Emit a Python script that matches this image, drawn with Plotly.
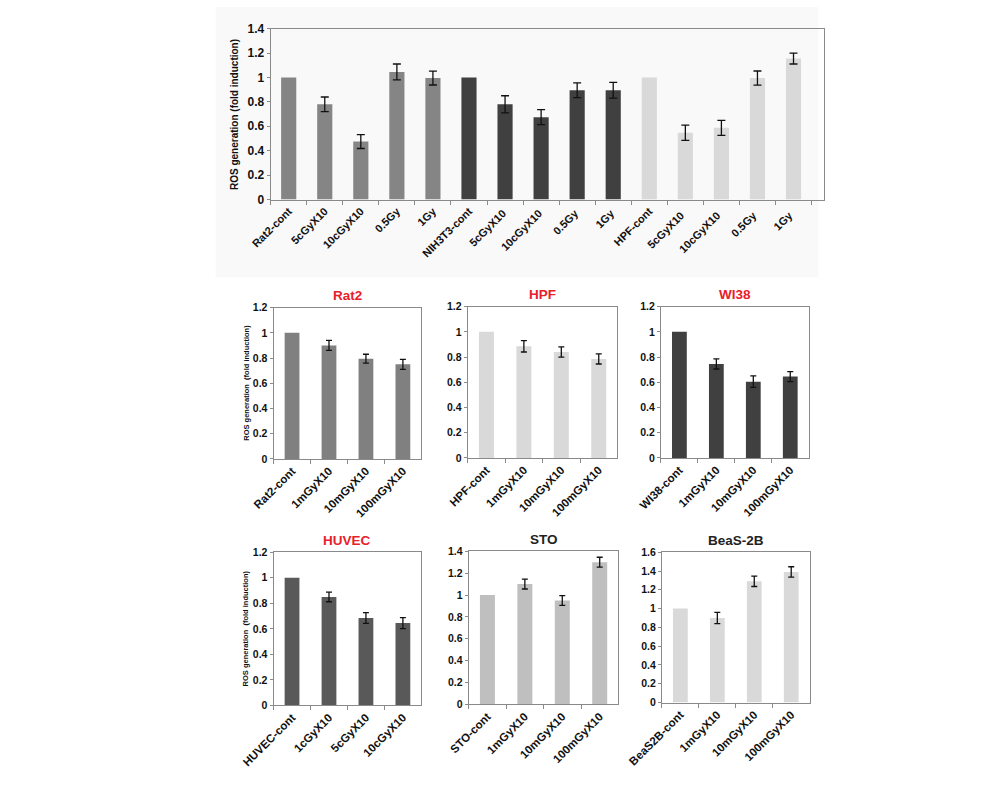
import plotly.graph_objects as go

# ---------------- data ----------------
top_cats = ["Rat2-cont", "5cGyX10", "10cGyX10", "0.5Gy", "1Gy",
            "NIH3T3-cont", "5cGyX10 ", "10cGyX10 ", "0.5Gy ", "1Gy ",
            "HPF-cont", "5cGyX10  ", "10cGyX10  ", "0.5Gy  ", "1Gy  "]
top_vals = [1.0, 0.78, 0.475, 1.045, 0.995,
            1.0, 0.78, 0.675, 0.895, 0.895,
            1.0, 0.547, 0.587, 0.995, 1.155]
top_err = [0, 0.06, 0.057, 0.065, 0.057,
           0, 0.07, 0.062, 0.06, 0.065,
           0, 0.062, 0.062, 0.058, 0.045]
top_colors = ["#858585"] * 5 + ["#404040"] * 5 + ["#d9d9d9"] * 5

rat2_cats = ["Rat2-cont", "1mGyX10", "10mGyX10", "100mGyX10"]
rat2_vals = [1.0, 0.90, 0.795, 0.75]
rat2_err = [0, 0.04, 0.035, 0.04]

hpf_cats = ["HPF-cont", "1mGyX10", "10mGyX10", "100mGyX10"]
hpf_vals = [1.0, 0.885, 0.84, 0.785]
hpf_err = [0, 0.045, 0.04, 0.04]

wi38_cats = ["WI38-cont", "1mGyX10", "10mGyX10", "100mGyX10"]
wi38_vals = [1.0, 0.745, 0.605, 0.645]
wi38_err = [0, 0.04, 0.045, 0.04]

huvec_cats = ["HUVEC-cont", "1cGyX10", "5cGyX10", "10cGyX10"]
huvec_vals = [1.0, 0.85, 0.685, 0.645]
huvec_err = [0, 0.038, 0.042, 0.043]

sto_cats = ["STO-cont", "1mGyX10", "10mGyX10", "100mGyX10"]
sto_vals = [1.0, 1.10, 0.95, 1.30]
sto_err = [0, 0.045, 0.045, 0.045]

beas_cats = ["BeaS2B-cont", "1mGyX10", "10mGyX10", "100mGyX10"]
beas_vals = [1.0, 0.90, 1.29, 1.39]
beas_err = [0, 0.06, 0.055, 0.055]

W, H = 1000, 794

def px_x(a, b):
    return [a / W, b / W]

def px_y(top, bottom):
    return [1 - bottom / H, 1 - top / H]

panels = [
    (top_cats, top_vals, top_err, top_colors, px_x(245, 818), px_y(22, 196), 1.4, None, None, 0.42, 11, 12),
    (rat2_cats, rat2_vals, rat2_err, "#808080", px_x(248, 401), px_y(306, 460), 1.2, "Rat2", "#e8202a", 0.4, 11.5, 10.5),
    (hpf_cats, hpf_vals, hpf_err, "#d9d9d9", px_x(449, 604), px_y(305, 459), 1.2, "HPF", "#e8202a", 0.4, 11.5, 10.5),
    (wi38_cats, wi38_vals, wi38_err, "#404040", px_x(649, 802), px_y(305, 459), 1.2, "WI38", "#e8202a", 0.4, 11.5, 10.5),
    (huvec_cats, huvec_vals, huvec_err, "#595959", px_x(248, 401), px_y(555, 711), 1.2, "HUVEC", "#e8202a", 0.4, 11.5, 10.5),
    (sto_cats, sto_vals, sto_err, "#bfbfbf", px_x(450, 605), px_y(554, 710), 1.4, "STO", "#222222", 0.4, 11.5, 10.5),
    (beas_cats, beas_vals, beas_err, "#d9d9d9", px_x(650, 803), px_y(555, 708), 1.6, "BeaS-2B", "#222222", 0.4, 11.5, 10.5),
]

fig = go.Figure()
annotations = []
FONT = "Liberation Sans, Arial, sans-serif"

for i, (cats, vals, err, color, xd, yd, ymax, title, tcol, bw, xfs, yfs) in enumerate(panels):
    n = "" if i == 0 else str(i + 1)
    fig.add_trace(go.Bar(
        x=cats, y=vals,
        marker=dict(color=color, line=dict(width=0)),
        width=bw,
        xaxis="x" + n, yaxis="y" + n, showlegend=False,
    ))
    # error bars only for points that have an error value
    ex = [c for c, e in zip(cats, err) if e > 0]
    ey = [v for v, e in zip(vals, err) if e > 0]
    ee = [e for e in err if e > 0]
    fig.add_trace(go.Scatter(
        x=ex, y=ey, mode="markers",
        marker=dict(size=1, color="rgba(0,0,0,0)"),
        error_y=dict(type="data", array=ee, visible=True, color="#111111",
                     thickness=1.3, width=4 if i == 0 else 3),
        xaxis="x" + n, yaxis="y" + n, showlegend=False, hoverinfo="skip",
    ))
    fig.update_layout(**{
        "xaxis" + n: dict(
            domain=xd, anchor="y" + n, type="category",
            categoryorder="array", categoryarray=cats,
            showline=True, linecolor="#8a8a8a", linewidth=1, mirror=True,
            ticks="outside", tickson="boundaries", ticklen=4, tickcolor="#8a8a8a",
            tickangle=-45, showgrid=False, zeroline=False,
            tickfont=dict(family=FONT, size=xfs, color="#111111", weight="bold"),
        ),
        "yaxis" + n: dict(
            domain=yd, anchor="x" + n, range=[0, ymax], dtick=0.2,
            showline=True, linecolor="#8a8a8a", linewidth=1, mirror=True,
            ticks="outside", ticklen=3, tickcolor="#8a8a8a",
            showgrid=False, zeroline=False,
            tickfont=dict(family=FONT, size=yfs, color="#111111", weight="bold"),
        ),
    })
    if title:
        annotations.append(dict(
            text="<b>" + title + "</b>", xref="paper", yref="paper",
            x=(xd[0] + xd[1]) / 2, y=yd[1] + 0.003, xanchor="center", yanchor="bottom",
            showarrow=False, font=dict(family=FONT, size=13.5, color=tcol),
        ))

# y-axis titles
annotations.append(dict(
    text="<b>ROS generation (fold induction)</b>", xref="paper", yref="paper",
    x=207 / W, y=1 - 109 / H, textangle=-90, showarrow=False,
    xanchor="center", yanchor="middle",
    font=dict(family=FONT, size=10, color="#111111"),
))
annotations.append(dict(
    text="<b>ROS generation  (fold induction)</b>", xref="paper", yref="paper",
    x=220 / W, y=1 - 383 / H, textangle=-90, showarrow=False,
    xanchor="center", yanchor="middle",
    font=dict(family=FONT, size=7.5, color="#111111"),
))
annotations.append(dict(
    text="<b>ROS generation  (fold induction)</b>", xref="paper", yref="paper",
    x=219 / W, y=1 - 633 / H, textangle=-90, showarrow=False,
    xanchor="center", yanchor="middle",
    font=dict(family=FONT, size=7.5, color="#111111"),
))

fig.update_layout(
    width=W, height=H,
    margin=dict(l=0, r=0, t=0, b=0),
    paper_bgcolor="white",
    plot_bgcolor="rgba(0,0,0,0)",
    annotations=annotations,
    shapes=[dict(type="rect", xref="paper", yref="paper", layer="below",
                 x0=188 / W, x1=812 / W, y0=1 - 275 / H, y1=1,
                 fillcolor="#f9f9f9", line=dict(width=0))],
)

fig.write_html("out.html")
